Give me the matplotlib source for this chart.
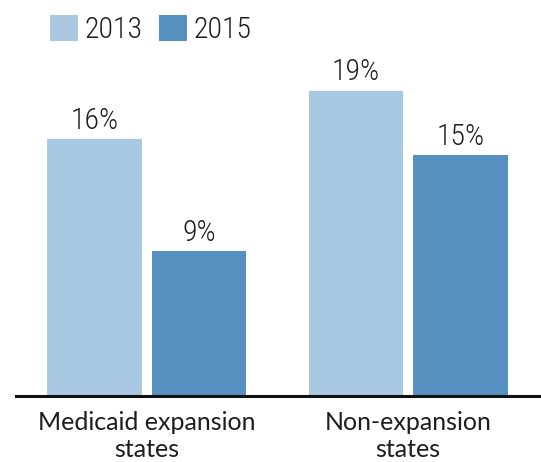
import matplotlib
matplotlib.use("Agg")
import matplotlib.pyplot as plt
from matplotlib.patches import Patch
from matplotlib import font_manager
import numpy as np

categories = ["Medicaid expansion\nstates", "Non-expansion\nstates"]
series_names = ["2013", "2015"]
values_2013 = [16, 19]
values_2015 = [9, 15]

colors = ["#a9c8e1", "#5590c0"]
txt = "#1e1e1e"

avail = {f.name for f in font_manager.fontManager.ttflist}
def pick(cands):
    for c in cands:
        if c in avail:
            return c
    return "DejaVu Sans"

num_fam = pick(["Roboto Condensed", "Fira Sans Condensed", "PT Sans Narrow",
                "Archivo Narrow", "Liberation Sans Narrow", "Lato"])
cat_fam = pick(["Lato", "Figtree", "Roboto", "DejaVu Sans"])
plt.rcParams["font.family"] = [cat_fam, "DejaVu Sans"]

W, H = 541, 462
fig = plt.figure(figsize=(W / 100, H / 100), dpi=100)
base = 396
px_per = 16.06
ymax = 20
ax = fig.add_axes([16 / W, (H - base) / H, (539 - 16) / W, ymax * px_per / H])

x = np.arange(len(categories))
bw = 0.36
off = 0.2
fs_num = 21.5
fs_cat = 18
for vals, c, dx, name in [(values_2013, colors[0], -off, series_names[0]),
                          (values_2015, colors[1], off, series_names[1])]:
    bars = ax.bar(x + dx, vals, width=bw, color=c, label=name)
    for b, v in zip(bars, vals):
        ax.annotate(f"{v}%", (b.get_x() + b.get_width() / 2, v),
                    xytext=(0, 7.5), textcoords="offset points",
                    ha="center", va="baseline", fontsize=fs_num, color=txt,
                    family=[num_fam, "DejaVu Sans"], weight="light",
                    annotation_clip=False)

ax.set_xlim(-0.5, 1.5)
ax.set_ylim(0, ymax)
for s in ["top", "right", "left"]:
    ax.spines[s].set_visible(False)
ax.spines["bottom"].set_linewidth(2.2)
ax.spines["bottom"].set_color("#111111")
ax.set_yticks([])
ax.set_xticks(x)
ax.set_xticklabels(categories, fontsize=fs_cat, color=txt, linespacing=1.2)
ax.tick_params(axis="x", length=0, pad=11)

handles = [Patch(facecolor=colors[0]), Patch(facecolor=colors[1])]
leg = fig.legend(handles, series_names, loc="upper left",
                 bbox_to_anchor=(50 / W, 1 - 15 / H), ncol=2, frameon=False,
                 prop={"family": [num_fam, "DejaVu Sans"], "size": fs_num,
                       "weight": "light"},
                 handlelength=0.95, handleheight=0.95,
                 handletextpad=0.2, columnspacing=0.55, borderpad=0,
                 borderaxespad=0, labelcolor=txt)

fig.savefig("out.png", dpi=100)
